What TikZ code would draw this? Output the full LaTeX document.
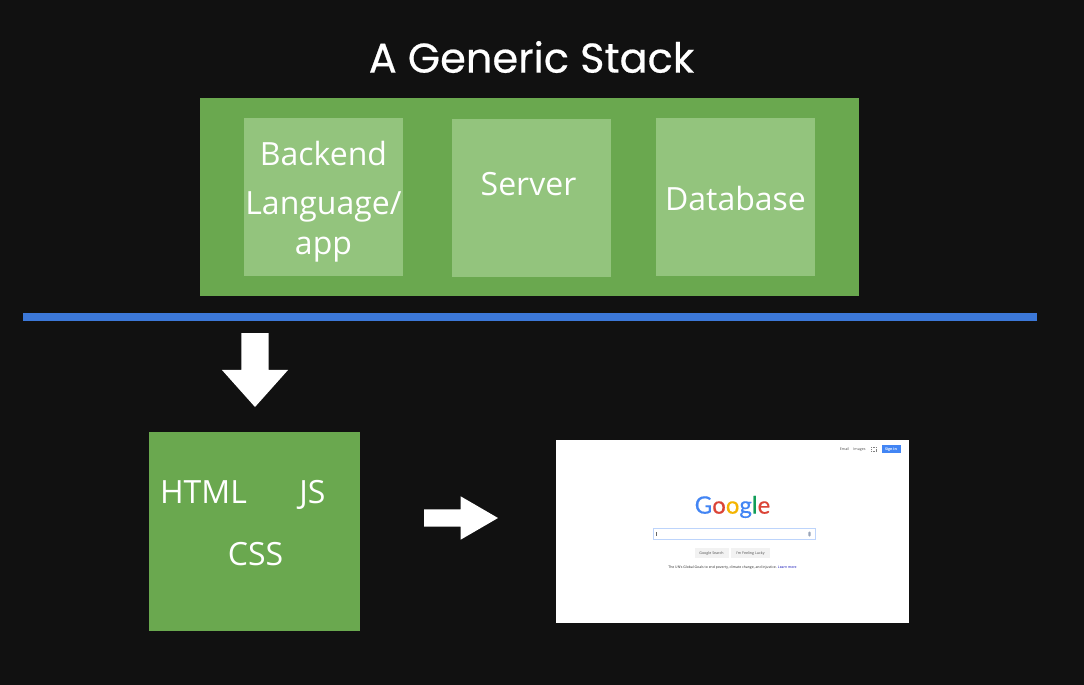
\documentclass[tikz,border=0pt]{standalone}
\usepackage{fontspec}
\setmainfont{Open Sans}
\newfontfamily\titlefont[FakeBold=0.5]{Poppins}
\newfontfamily\logofont[FakeBold=0.3]{Lato}
\usetikzlibrary{shapes.arrows}
\definecolor{bgdark}{HTML}{111111}
\definecolor{stackgreen}{HTML}{6AA84F}
\definecolor{lightgreen}{HTML}{93C47D}
\definecolor{barblue}{HTML}{3C78D8}
\definecolor{gblue}{HTML}{4285F4}
\definecolor{gred}{HTML}{DB4437}
\definecolor{gyellow}{HTML}{F4B400}
\definecolor{ggreen}{HTML}{0F9D58}
\tikzset{
	box/.style={inner sep=0pt,outer sep=0pt,minimum width=#1},
	label/.style={text=white,inner sep=0pt,font=\fontsize{32}{36}\selectfont},
	tiny/.style={inner sep=0pt,text=black!70,text height=2.8pt,text depth=.8pt,font=\fontsize{3.6}{4}\selectfont},
	bigarrow/.style={single arrow,anchor=tip,fill=white,outer sep=0pt,single arrow head indent=0pt},
}
\begin{document}
\begin{tikzpicture}[x=1pt,y=-1pt]
	\fill[bgdark] (0,0) rectangle (1084,685);
	\useasboundingbox (0,0) rectangle (1084,685);

	\node (title) at (531.5,57) [text=white,inner sep=0pt,font=\titlefont\fontsize{41.5}{44}\selectfont] {A Generic Stack};

	\node (stack) at (529.5,197) [box=659pt,minimum height=198pt,fill=stackgreen] {};
	\node (backend) at (323.5,197) [box=159pt,minimum height=158pt,fill=lightgreen] {};
	\node (server) at (531.5,198) [box=159pt,minimum height=158pt,fill=lightgreen] {};
	\node (database) at (735.5,197) [box=159pt,minimum height=158pt,fill=lightgreen] {};

	\node (t1) at (323.5,153.5) [label] {Backend};
	\node (t2) at (323.5,207) [label] {Language/};
	\node (t3) at (323.5,250) [label] {app};
	\node (t4) at (528.5,184) [label] {Server};
	\node (t5) at (735.5,198.5) [label] {Database};

	\node (bar) at (530,317) [box=1014pt,minimum height=8pt,fill=barblue] {};

	\node (down) at (255,407) [bigarrow,inner xsep=13.5pt,inner ysep=0pt,shape border rotate=270,minimum height=74pt,minimum width=66pt,single arrow head extend=19.5pt,single arrow tip angle=83.5] {};

	\node (front) at (254.5,531.5) [box=211pt,minimum height=199pt,fill=stackgreen] {};
	\node (html) at (203.5,492) [label] {HTML};
	\node (js) at (312.5,495) [label] {JS};
	\node (css) at (255.5,554) [label] {CSS};

	\node (right) at (498,518) [bigarrow,inner xsep=0pt,inner ysep=8.5pt,minimum height=74pt,minimum width=43pt,single arrow head extend=13pt,single arrow tip angle=60.3] {};

	\node (page) at (732.5,531.5) [box=353pt,minimum height=183pt,fill=white] {};
	\node (email) at (844.5,449) [tiny] {Email};
	\node (images) at (859.5,449) [tiny] {Images};
	\node (signin) at (891,449) [box=19pt,minimum height=8pt,fill=gblue,text=white,text height=2.8pt,text depth=.8pt,font=\fontsize{3.6}{4}\selectfont\bfseries] {Sign in};
	\node (apps) at (873.5,449) [box=5pt,minimum height=4pt,draw=black!50,line width=.6pt,dash pattern=on 1pt off .6pt] {};

	\node (logo) at (732.5,507) [inner sep=0pt,font=\logofont\fontsize{24}{30}\selectfont] {\textcolor{gblue}{G}\textcolor{gred}{o}\textcolor{gyellow}{o}\textcolor{gblue}{g}\textcolor{ggreen}{l}\textcolor{gred}{e}};

	\node (search) at (734.5,534) [box=162pt,minimum height=11pt,fill=white,draw=gblue!35,line width=.6pt] {};
	\node (cursor) at (656.5,534) [box=.6pt,minimum height=4pt,fill=black!60] {};
	\node (mic) at (809.5,534) [box=2.2pt,minimum height=5pt,rounded corners=1pt,fill=gblue!40!black!45] {};

	\node (gsearch) at (711.5,553) [tiny,box=34pt,minimum height=10pt,fill=black!5] {Google Search};
	\node (lucky) at (750.5,553) [tiny,box=39pt,minimum height=10pt,fill=black!5] {I'm Feeling Lucky};
	\node (goals) at (732.5,567.5) [inner sep=0pt,text=black!85,font=\fontsize{3.45}{4}\selectfont] {The UN's Global Goals to end poverty, climate change, and injustice. \textcolor{blue!70!black}{Learn more}};
\end{tikzpicture}
\end{document}
